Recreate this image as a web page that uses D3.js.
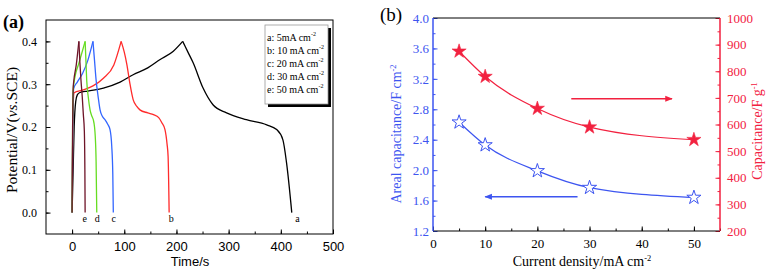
<!DOCTYPE html>
<html>
<head>
<meta charset="utf-8">
<script src="https://cdn.jsdelivr.net/npm/d3@7"></script>
<style>
body { margin: 0; background: #fff; }
svg { display: block; }
</style>
</head>
<body>
<svg id="chart" width="766" height="270"></svg>
<script>
// ---- panel (a): galvanostatic charge/discharge curves, [time s, potential V]
var curveA = [[0,0],[2,0.1],[4,0.2],[7,0.26],[10,0.275],[14,0.28],[30,0.284],[60,0.291],[92,0.305],[117,0.322],[145,0.338],[168,0.357],[194,0.377],[212,0.4],
              [222,0.375],[232,0.35],[251,0.291],[270,0.252],[296,0.233],[334,0.217],[373,0.205],[392,0.194],[404,0.17],[411,0.116],[421,0]];
var curveB = [[0,0],[1,0.15],[2,0.25],[4,0.28],[20,0.286],[40,0.296],[60,0.314],[80,0.345],[94,0.4],
              [100,0.375],[105,0.346],[111,0.3],[117,0.264],[124,0.248],[130,0.24],[145,0.233],[156,0.229],[166,0.222],[172,0.21],[178,0.194],[182,0.16],[184,0.131],[186,0]];
var curveC = [[0,0],[1,0.15],[2,0.25],[3,0.29],[10,0.305],[20,0.325],[30,0.355],[40,0.4],
              [43,0.355],[46,0.31],[50,0.27],[53.6,0.24],[58,0.225],[63,0.217],[68,0.207],[72.7,0.194],[76,0.155],[78,0.09],[79,0]];
var curveD = [[0,0],[1,0.2],[2,0.285],[6,0.32],[12,0.345],[18,0.37],[25,0.4],
              [26.5,0.355],[28,0.31],[31,0.27],[34.4,0.24],[38,0.225],[40.6,0.217],[43,0.2],[44.4,0.178],[46,0.12],[47.3,0]];
var curveE = [[0,0],[1,0.2],[2,0.29],[3,0.305],[8,0.345],[13,0.4],
              [15,0.35],[17,0.31],[19.5,0.27],[21.5,0.23],[23.5,0.19],[24.5,0.1],[25,0]];

var curveNames = ["a", "b", "c", "d", "e"];
var curveColors = ["#000000", "#ff2b2b", "#3366ff", "#66dd22", "#6e1428"];
var curveLabelT = [432, 190, 80, 48, 24];
var legendText = ["a: 5mA cm", "b: 10 mA cm", "c: 20 mA cm", "d: 30 mA cm", "e: 50 mA cm"];
var timeTicks = [0, 100, 200, 300, 400, 500];
var potentialTicks = [0.0, 0.1, 0.2, 0.3, 0.4];

// ---- panel (b): capacitance vs current density
var density = [5, 10, 20, 30, 50];
var areal = [2.63, 2.33, 1.99, 1.77, 1.64];         // F cm-2
var specific = [875, 780, 660, 590, 543];          // F g-1
var densityTicks = [0, 10, 20, 30, 40, 50];
var arealTicks = [1.2, 1.6, 2.0, 2.4, 2.8, 3.2, 3.6, 4.0];
var specificTicks = [200, 300, 400, 500, 600, 700, 800, 900, 1000];

var svg = d3.select("#chart");
var serif = "'Liberation Serif', 'Times New Roman', serif";
var sans = "'Liberation Sans', Arial, sans-serif";

function addSup(textSel, base, sup) {
    textSel.append("tspan").text(base);
    textSel.append("tspan").attr("dy", -5).attr("font-size", "0.6em").text(sup);
}

function range(a, b, step) {
    var out = [];
    for (var v = a; v <= b + 1e-9; v += step) out.push(+v.toFixed(4));
    return out;
}

// ================= panel (a) =================
var ga = svg.append("g");
var xa = d3.scaleLinear().domain([-50, 500]).range([46, 333]);
var ya = d3.scaleLinear().domain([-0.05, 0.45]).range([234, 20]);

// minor ticks
ga.append("g").attr("transform", "translate(0,234)")
  .call(d3.axisBottom(xa).tickValues(range(0, 450, 50)).tickSize(-2.5).tickSizeOuter(0).tickFormat(""))
  .call(g => g.select(".domain").remove());
ga.append("g").attr("transform", "translate(46,0)")
  .call(d3.axisLeft(ya).tickValues(range(0, 0.4, 0.05)).tickSize(-2.5).tickSizeOuter(0).tickFormat(""))
  .call(g => g.select(".domain").remove());

// major ticks
var xAxA = ga.append("g").attr("transform", "translate(0,234)")
  .call(d3.axisBottom(xa).tickValues(timeTicks).tickSize(-4.5).tickSizeOuter(0).tickPadding(8).tickFormat(d3.format("d")));
xAxA.select(".domain").remove();
xAxA.selectAll("text").attr("font-family", sans).attr("font-size", 13).attr("fill", "#000");

var yAxA = ga.append("g").attr("transform", "translate(46,0)")
  .call(d3.axisLeft(ya).tickValues(potentialTicks).tickSize(-4.5).tickSizeOuter(0).tickPadding(9).tickFormat(d3.format(".1f")));
yAxA.select(".domain").remove();
yAxA.selectAll("text").attr("font-family", serif).attr("font-size", 12).attr("fill", "#000");

ga.append("rect").attr("x", 46).attr("y", 20).attr("width", 287).attr("height", 214)
  .attr("fill", "none").attr("stroke", "#000").attr("stroke-width", 1);

// charge and discharge branches drawn separately so the 0.4 V peak stays sharp
var lineA = d3.line().x(d => xa(d[0])).y(d => ya(d[1])).curve(d3.curveMonotoneX);
var curves = [curveA, curveB, curveC, curveD, curveE];
curves.forEach(function (c, i) {
    var peak = d3.maxIndex(c, d => d[1]);
    [c.slice(0, peak + 1), c.slice(peak)].forEach(function (part) {
        ga.append("path").datum(part).attr("d", lineA)
          .attr("fill", "none").attr("stroke", curveColors[i]).attr("stroke-width", 1.3)
          .attr("stroke-linejoin", "round");
    });
    ga.append("text").attr("x", xa(curveLabelT[i])).attr("y", ya(-0.023))
      .attr("text-anchor", "middle").attr("font-family", serif).attr("font-size", 10)
      .text(curveNames[i]);
});

// legend box with shadow
var leg = ga.append("g");
leg.append("rect").attr("x", 268).attr("y", 28).attr("width", 63).attr("height", 79).attr("fill", "#000");
leg.append("rect").attr("x", 265).attr("y", 25).attr("width", 63).attr("height", 79)
  .attr("fill", "#fff").attr("stroke", "#999").attr("stroke-width", 0.8);
legendText.forEach(function (t, i) {
    var tx = leg.append("text").attr("x", 267).attr("y", 41 + i * 13)
      .attr("font-family", serif).attr("font-size", 10).attr("fill", "#000");
    addSup(tx, t, "-2");
});

ga.append("text").attr("x", 190).attr("y", 266).attr("text-anchor", "middle")
  .attr("font-family", sans).attr("font-size", 13).text("Time/s");

var potLabel = ga.append("text").attr("transform", "translate(17,130) rotate(-90)")
  .attr("text-anchor", "middle").attr("font-family", serif).attr("font-size", 15.5);
potLabel.append("tspan").text("Potential/V(");
potLabel.append("tspan").attr("font-style", "italic").text("vs");
potLabel.append("tspan").text(".SCE)");

ga.append("text").attr("x", 3).attr("y", 28).attr("font-family", serif)
  .attr("font-size", 18).attr("font-weight", "bold").text("(a)");

// ================= panel (b) =================
var blue = "#3d55f0";
var red = "#f2213f";
var gb = svg.append("g");
var xb = d3.scaleLinear().domain([0, 55]).range([433, 720]);
var yl = d3.scaleLinear().domain([1.2, 4.0]).range([231, 18]);
var yr = d3.scaleLinear().domain([200, 1000]).range([231, 18]);

// minor ticks
gb.append("g").attr("transform", "translate(0,231)")
  .call(d3.axisBottom(xb).tickValues(range(5, 55, 5)).tickSize(-2.5).tickSizeOuter(0).tickFormat(""))
  .call(g => g.select(".domain").remove());
gb.append("g").attr("transform", "translate(433,0)")
  .call(d3.axisLeft(yl).tickValues(range(1.2, 4.0, 0.2)).tickSize(-2.5).tickSizeOuter(0).tickFormat(""))
  .call(g => { g.select(".domain").remove(); g.selectAll("line").attr("stroke", blue); });
gb.append("g").attr("transform", "translate(720,0)")
  .call(d3.axisRight(yr).tickValues(range(200, 1000, 50)).tickSize(-2.5).tickSizeOuter(0).tickFormat(""))
  .call(g => { g.select(".domain").remove(); g.selectAll("line").attr("stroke", red); });

// major ticks
var xAxB = gb.append("g").attr("transform", "translate(0,231)")
  .call(d3.axisBottom(xb).tickValues(densityTicks).tickSize(-4.5).tickSizeOuter(0).tickPadding(8).tickFormat(d3.format("d")));
xAxB.select(".domain").remove();
xAxB.selectAll("text").attr("font-family", serif).attr("font-size", 13).attr("fill", "#000");

var ylAx = gb.append("g").attr("transform", "translate(433,0)")
  .call(d3.axisLeft(yl).tickValues(arealTicks).tickSize(-4.5).tickSizeOuter(0).tickPadding(4).tickFormat(d3.format(".1f")));
ylAx.select(".domain").remove();
ylAx.selectAll("line").attr("stroke", blue);
ylAx.selectAll("text").attr("font-family", serif).attr("font-size", 13).attr("fill", blue);

var yrAx = gb.append("g").attr("transform", "translate(720,0)")
  .call(d3.axisRight(yr).tickValues(specificTicks).tickSize(-4.5).tickSizeOuter(0).tickPadding(7).tickFormat(d3.format("d")));
yrAx.select(".domain").remove();
yrAx.selectAll("line").attr("stroke", red);
yrAx.selectAll("text").attr("font-family", serif).attr("font-size", 13).attr("fill", red);

// frame: top/bottom black, left blue, right red
gb.append("line").attr("x1", 433).attr("x2", 720).attr("y1", 18).attr("y2", 18).attr("stroke", "#000");
gb.append("line").attr("x1", 433).attr("x2", 720).attr("y1", 231).attr("y2", 231).attr("stroke", "#000");
gb.append("line").attr("x1", 433).attr("x2", 433).attr("y1", 18).attr("y2", 231).attr("stroke", blue).attr("stroke-width", 1.5);
gb.append("line").attr("x1", 720).attr("x2", 720).attr("y1", 18).attr("y2", 231).attr("stroke", red).attr("stroke-width", 1.5);

var arealPts = density.map((d, i) => [d, areal[i]]);
var specPts = density.map((d, i) => [d, specific[i]]);

gb.append("path").datum(specPts)
  .attr("d", d3.line().x(d => xb(d[0])).y(d => yr(d[1])).curve(d3.curveMonotoneX))
  .attr("fill", "none").attr("stroke", red).attr("stroke-width", 1.2);
gb.append("path").datum(arealPts)
  .attr("d", d3.line().x(d => xb(d[0])).y(d => yl(d[1])).curve(d3.curveMonotoneX))
  .attr("fill", "none").attr("stroke", blue).attr("stroke-width", 1.2);

var star = d3.symbol().type(d3.symbolStar).size(62);
gb.selectAll(".spec").data(specPts).enter().append("path")
  .attr("transform", d => "translate(" + xb(d[0]) + "," + yr(d[1]) + ")")
  .attr("d", star).attr("fill", red).attr("stroke", red).attr("stroke-width", 0.6);
gb.selectAll(".areal").data(arealPts).enter().append("path")
  .attr("transform", d => "translate(" + xb(d[0]) + "," + yl(d[1]) + ")")
  .attr("d", star).attr("fill", "#fff").attr("stroke", blue).attr("stroke-width", 1);

// direction arrows
var arrowRed = { from: 26.5, to: 45.8, value: 697 };
var arrowBlue = { from: 27.7, to: 10, value: 1.65 };
var defs = svg.append("defs");
[["headRed", red], ["headBlue", blue]].forEach(function (m) {
    defs.append("marker").attr("id", m[0]).attr("viewBox", "0 0 10 10").attr("refX", 9).attr("refY", 5)
      .attr("markerWidth", 7).attr("markerHeight", 5).attr("orient", "auto")
      .append("path").attr("d", "M0,1 L10,5 L0,9 Z").attr("fill", m[1]);
});
gb.append("line").attr("x1", xb(arrowRed.from)).attr("x2", xb(arrowRed.to))
  .attr("y1", yr(arrowRed.value)).attr("y2", yr(arrowRed.value))
  .attr("stroke", red).attr("stroke-width", 1.5).attr("marker-end", "url(#headRed)");
gb.append("line").attr("x1", xb(arrowBlue.from)).attr("x2", xb(arrowBlue.to))
  .attr("y1", yl(arrowBlue.value)).attr("y2", yl(arrowBlue.value))
  .attr("stroke", blue).attr("stroke-width", 1.5).attr("marker-end", "url(#headBlue)");

// titles
var xt = gb.append("text").attr("x", 582).attr("y", 266).attr("text-anchor", "middle")
  .attr("font-family", serif).attr("font-size", 14).attr("fill", "#000");
addSup(xt, "Current density/mA cm", "-2");

var ylt = gb.append("text").attr("transform", "translate(401,134) rotate(-90)").attr("text-anchor", "middle")
  .attr("font-family", serif).attr("font-size", 14).attr("fill", blue);
addSup(ylt, "Areal capacitance/F cm", "-2");

var yrt = gb.append("text").attr("transform", "translate(762,131) rotate(-90)").attr("text-anchor", "middle")
  .attr("font-family", serif).attr("font-size", 14).attr("fill", red);
addSup(yrt, "Capacitance/F g", "-1");

gb.append("text").attr("x", 380).attr("y", 21).attr("font-family", serif)
  .attr("font-size", 19).text("(b)");
</script>
</body>
</html>
